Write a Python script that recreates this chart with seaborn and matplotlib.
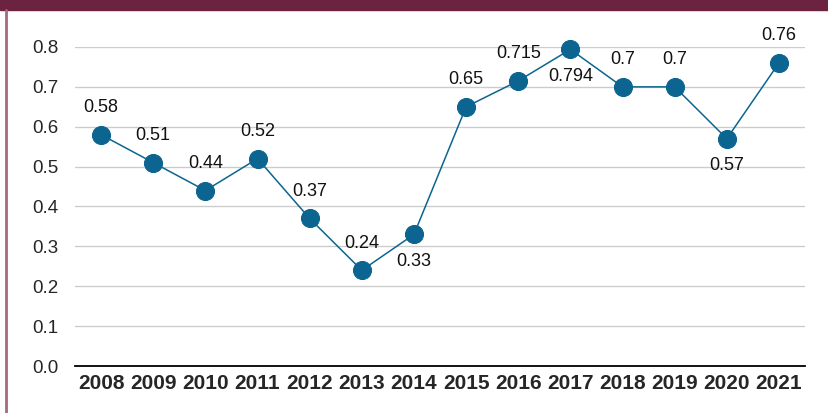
import matplotlib
matplotlib.use("Agg")
import matplotlib.pyplot as plt
import seaborn as sns
import pandas as pd
from matplotlib import font_manager

# Data
years = [2008, 2009, 2010, 2011, 2012, 2013, 2014, 2015, 2016, 2017, 2018, 2019, 2020, 2021]
values = [0.58, 0.51, 0.44, 0.52, 0.37, 0.24, 0.33, 0.65, 0.715, 0.794, 0.7, 0.7, 0.57, 0.76]
labels = ["0.58", "0.51", "0.44", "0.52", "0.37", "0.24", "0.33", "0.65", "0.715", "0.794", "0.7", "0.7", "0.57", "0.76"]
label_below = [False, False, False, False, False, False, True, False, False, True, False, False, True, False]

df = pd.DataFrame({"year": years, "value": values})

sns.set_style("white")
plt.rcParams["font.family"] = ["Liberation Sans", "DejaVu Sans"]

names = {f.name for f in font_manager.fontManager.ttflist}
xfont = "Liberation Sans Narrow" if "Liberation Sans Narrow" in names else "Liberation Sans"

blue = "#0b6590"
fig = plt.figure(figsize=(8.29, 4.13), dpi=100)
ax = fig.add_axes([0.0905, 0.1138, 0.8806, 0.7724])

sns.lineplot(data=df, x="year", y="value", ax=ax, color=blue, linewidth=1.1,
             marker="o", markersize=13, markeredgecolor=blue, clip_on=False, zorder=3)

for x, y, t, below in zip(years, values, labels, label_below):
    dy = -27 if below else 27
    ax.annotate(t, (x, y), xytext=(0, dy), textcoords="offset points" if False else "offset pixels",
                ha="center", va="center", fontsize=13, color="#111111")

ax.set_ylim(0, 0.8)
ax.set_xlim(years[0] - 0.5, years[-1] + 0.5)
ax.set_yticks([i / 10 for i in range(9)])
ax.set_yticklabels([f"{i / 10:.1f}" for i in range(9)], fontsize=13.5)
ax.set_xticks(years)
ax.set_xticklabels([str(y) for y in years], fontsize=15, fontweight="bold", family=xfont)
ax.set_xticks([y - 0.5 for y in years] + [years[-1] + 0.5], minor=True)
ax.tick_params(axis="x", which="major", length=0, pad=6)
ax.tick_params(axis="x", which="minor", direction="in", length=7, width=1.2, color="black")
ax.tick_params(axis="y", length=0, pad=12)
ax.grid(axis="y", color="#cccccc", linewidth=1)
ax.set_axisbelow(True)
ax.set_xlabel("")
ax.set_ylabel("")
for s in ["top", "right", "left"]:
    ax.spines[s].set_visible(False)
ax.spines["bottom"].set_color("black")
ax.spines["bottom"].set_linewidth(1.3)

# maroon frame: top band and thin left rule
fig.patches.append(plt.Rectangle((0, 1 - 10 / 413), 1, 10 / 413, transform=fig.transFigure,
                                 color="#6b2340", zorder=0))
fig.add_artist(plt.Line2D([6.5 / 829, 6.5 / 829], [0, 1 - 10 / 413], transform=fig.transFigure,
                          color="#a8687f", linewidth=2))

fig.savefig("out.png", dpi=100)
